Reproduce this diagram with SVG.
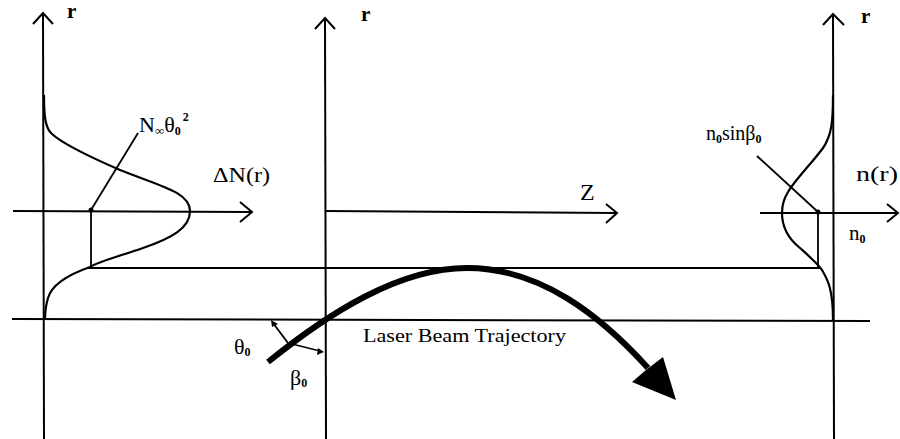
<svg xmlns="http://www.w3.org/2000/svg" width="900" height="439" viewBox="0 0 900 439">
<style>
.ax{stroke:#000;stroke-width:2;fill:none}
.ln{stroke:#000;stroke-width:1.8;fill:none}
.cv{stroke:#000;stroke-width:2.2;fill:none}
.t{font-family:"Liberation Serif","Times New Roman",serif;fill:#000}
.r{font-family:"Liberation Serif","Times New Roman",serif;font-size:21px;font-weight:bold;fill:#000}
.s{font-size:12px;font-weight:bold}
</style>
<rect width="900" height="439" fill="#fff"/>
<g id="left-panel">
<line class="ax" x1="43" y1="14" x2="44" y2="439"/>
<polyline class="ax" points="33,24 43,13 53,24"/>
<text class="r" x="67" y="18">r</text>
<line class="ax" x1="13" y1="211" x2="251" y2="212"/>
<polyline class="ax" points="240,202 252,212 240,222"/>
<path class="cv" d="M44,95 C44,115 45,128 52,134 C62,143 90,157 120,170 C160,186 190,192 190,211 C190,228 172,238 143,248 C120,256 100,261 90,267 C70,274 52,284 48,298 C45,308 45,315 45,320"/>
<circle cx="91" cy="210" r="2.5" fill="#000"/>
<line class="ln" x1="91" y1="210" x2="91" y2="267"/>
<line class="ln" x1="91" y1="210" x2="138" y2="133"/>
<text class="t" x="139" y="132" font-size="22">N<tspan font-size="13" dy="3">∞</tspan><tspan dy="-3">θ</tspan><tspan class="s" dy="3">0</tspan><tspan class="s" dy="-14" dx="2">2</tspan></text>
<text class="t" x="213" y="182" font-size="22" textLength="57" lengthAdjust="spacingAndGlyphs">ΔN(r)</text>
</g>
<g id="middle-panel">
<line class="ax" x1="325" y1="19" x2="326" y2="439"/>
<polyline class="ax" points="315,29 325,18 335,29"/>
<text class="r" x="361" y="21">r</text>
<line class="ax" x1="325" y1="211" x2="616" y2="213"/>
<polyline class="ax" points="606,204 617,213 606,223"/>
<text class="t" x="580" y="200" font-size="24">Z</text>
</g>
<g id="right-panel">
<line class="ax" x1="833" y1="15" x2="834" y2="439"/>
<polyline class="ax" points="823,25 833,14 844,25"/>
<text class="r" x="861" y="23">r</text>
<line class="ax" x1="760" y1="213" x2="897" y2="213"/>
<polyline class="ax" points="887,204 898,213 887,222"/>
<path class="cv" d="M833,95 C833,120 832,135 823,148 C812,163 795,180 788,192 C783,200 782,207 782,213 C782,228 790,240 800,248 C810,257 818,264 822,270 C828,280 833,290 833,320"/>
<circle cx="818" cy="212" r="2.5" fill="#000"/>
<line class="ln" x1="818" y1="212" x2="818" y2="268"/>
<line class="ln" x1="818" y1="212" x2="757" y2="156"/>
<text class="t" x="706" y="140" font-size="20">n<tspan class="s" dy="3">0</tspan><tspan dy="-3">sinβ</tspan><tspan class="s" dy="3">0</tspan></text>
<text class="t" x="856" y="181" font-size="22" textLength="42" lengthAdjust="spacingAndGlyphs">n(r)</text>
<text class="t" x="849" y="240" font-size="21">n<tspan class="s" dy="3">0</tspan></text>
</g>
<g id="reference-lines">
<line class="ln" x1="88" y1="268" x2="821" y2="268"/>
<line class="ax" x1="12" y1="319" x2="870" y2="321"/>
</g>
<g id="trajectory">
<path d="M268,362 C330,312 400,268 467,268 C540,268 600,315 648,368" stroke="#000" stroke-width="6" fill="none"/>
<polygon points="676,400 632,382 646,370 663,357" fill="#000"/>
<text class="t" x="363" y="342" font-size="18" textLength="203" lengthAdjust="spacingAndGlyphs">Laser Beam Trajectory</text>
</g>
<g id="angles">
<line class="ln" x1="288" y1="343" x2="273" y2="323"/>
<polygon points="271,320 278,324 272,327" fill="#000"/>
<line class="ln" x1="288" y1="343" x2="320" y2="351"/>
<polygon points="324,352 317,355 318,348" fill="#000"/>
<text class="t" x="234" y="354" font-size="22">θ<tspan class="s" dy="2">0</tspan></text>
<text class="t" x="290" y="385" font-size="22">β<tspan class="s" dy="2">0</tspan></text>
</g>
</svg>
